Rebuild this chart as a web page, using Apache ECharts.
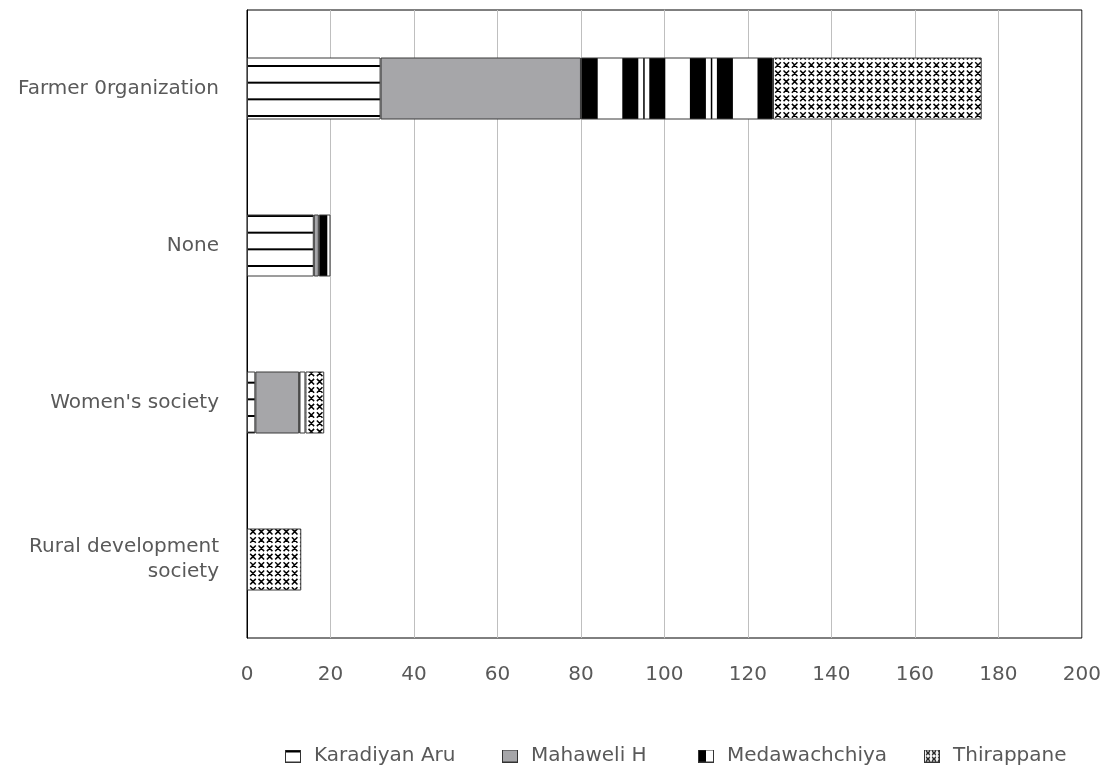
<!DOCTYPE html>
<html>
<head>
<meta charset="utf-8">
<title>Membership by organisation</title>
<script src="https://cdn.jsdelivr.net/npm/echarts@6/dist/echarts.min.js"></script>
<style>
  html, body { margin: 0; padding: 0; background: #ffffff; }
  #chart { width: 1104px; height: 769px; }
</style>
</head>
<body>
<div id="chart"></div>
<script>
// Organisation categories (top to bottom)
const categories = ['Farmer 0rganization', 'None', "Women's society", 'Rural development\nsociety'];

// Respondents per area, one value per category
const seriesNames = ['Karadiyan Aru', 'Mahaweli H', 'Medawachchiya', 'Thirappane'];
const karadiyanAru  = [32, 16,   2,    0];
const mahaweliH     = [48, 1.2,  10.5, 0];
const medawachchiya = [46, 2.8,  1.5,  0];
const thirappane    = [50, 0,    4.5,  13];

// Value axis ticks
const axisMin = 0;
const axisMax = 200;
const axisStep = 20;

const FONT = 'DejaVu Sans';
const TEXT = '#595959';

function makeCanvas(w, h, draw) {
  const c = document.createElement('canvas');
  c.width = w; c.height = h;
  const ctx = c.getContext('2d');
  ctx.fillStyle = '#ffffff';
  ctx.fillRect(0, 0, w, h);
  draw(ctx, w, h);
  return c;
}

// Horizontal line hatch (three periods of 16.67px)
const hLines = makeCanvas(4, 50, (ctx) => {
  ctx.fillStyle = '#000';
  [15, 31.67, 48.33].forEach(y => ctx.fillRect(0, y, 4, 2));
  ctx.fillRect(0, -1.67, 4, 2);
});

// Wide vertical stripes (ten periods of 67.6px)
const vStripes = makeCanvas(676, 4, (ctx) => {
  ctx.fillStyle = '#000';
  for (let k = -1; k <= 10; k++) {
    const s = 40.9 + 67.6 * k;
    ctx.fillRect(s, 0, 16, 4);
    ctx.fillRect(s + 40.6, 0, 16, 4);
    ctx.fillRect(s + 61.5, 0, 1.5, 4);
  }
});

// Small crosses (three periods of 8.33px)
function drawCrosses(ctx, w, h, ox, oy, p, r, lw) {
  ctx.strokeStyle = '#000';
  ctx.lineWidth = lw;
  ctx.beginPath();
  for (let x = ox - p; x < w + p; x += p) {
    for (let y = oy - p; y < h + p; y += p) {
      ctx.moveTo(x - r, y - r); ctx.lineTo(x + r, y + r);
      ctx.moveTo(x + r, y - r); ctx.lineTo(x - r, y + r);
    }
  }
  ctx.stroke();
}
const crosses = makeCanvas(25, 25, (ctx, w, h) => drawCrosses(ctx, w, h, 3.0, 6.67, 25 / 3, 2.8, 1.5));

const fills = [
  { image: hLines, repeat: 'repeat' },
  '#a6a6a9',
  { image: vStripes, repeat: 'repeat' },
  { image: crosses, repeat: 'repeat' }
];

// Legend swatches
function swatch(draw) {
  const c = makeCanvas(16, 13, (ctx, w, h) => {
    draw(ctx, w, h);
    ctx.strokeStyle = '#333';
    ctx.lineWidth = 1;
    ctx.strokeRect(0.5, 0.5, w - 1, h - 1);
  });
  return 'image://' + c.toDataURL();
}
const icons = [
  swatch((ctx, w) => { ctx.fillStyle = '#000'; ctx.fillRect(0, 0, w, 3); }),
  swatch((ctx, w, h) => { ctx.fillStyle = '#a6a6a9'; ctx.fillRect(0, 0, w, h); }),
  swatch((ctx, w, h) => { ctx.fillStyle = '#000'; ctx.fillRect(0, 0, w / 2, h); }),
  swatch((ctx, w, h) => drawCrosses(ctx, w, h, 4, 3.5, 6, 2, 1.2))
];
const legendLeft = [280, 497, 693, 919];

const values = [karadiyanAru, mahaweliH, medawachchiya, thirappane];

const chart = echarts.init(document.getElementById('chart'), null, { renderer: 'canvas' });

chart.setOption({
  animation: false,
  backgroundColor: '#ffffff',
  grid: {
    left: 247, right: 22, top: 10, bottom: 131,
    show: true, borderColor: '#000000', borderWidth: 1,
    containLabel: false
  },
  legend: seriesNames.map((name, i) => ({
    data: [{ name: name, icon: icons[i] }],
    left: legendLeft[i],
    top: 741,
    itemWidth: 16,
    itemHeight: 13,
    selectedMode: false,
    textStyle: { fontFamily: FONT, fontSize: 20, color: TEXT, padding: [0, 0, 0, 8] }
  })),
  xAxis: {
    type: 'value',
    min: axisMin, max: axisMax, interval: axisStep,
    axisLine: { show: false },
    axisTick: { show: false },
    splitLine: { show: true, lineStyle: { color: '#bfbfbf', width: 1 } },
    axisLabel: { fontFamily: FONT, fontSize: 20, color: TEXT, margin: 27 }
  },
  yAxis: {
    type: 'category',
    data: categories,
    inverse: true,
    axisLine: { show: true, lineStyle: { color: '#000000', width: 1 } },
    axisTick: { show: false },
    splitLine: { show: false },
    axisLabel: {
      fontFamily: FONT, fontSize: 20, color: TEXT, margin: 28,
      lineHeight: 25, align: 'right'
    }
  },
  series: seriesNames.map((name, i) => ({
    name: name,
    type: 'bar',
    stack: 'total',
    barWidth: 62,
    data: values[i].map(v => (v === 0 ? null : v)),
    itemStyle: { color: fills[i], borderColor: '#3a3a3a', borderWidth: 1 },
    emphasis: { disabled: true }
  }))
});
</script>
</body>
</html>
